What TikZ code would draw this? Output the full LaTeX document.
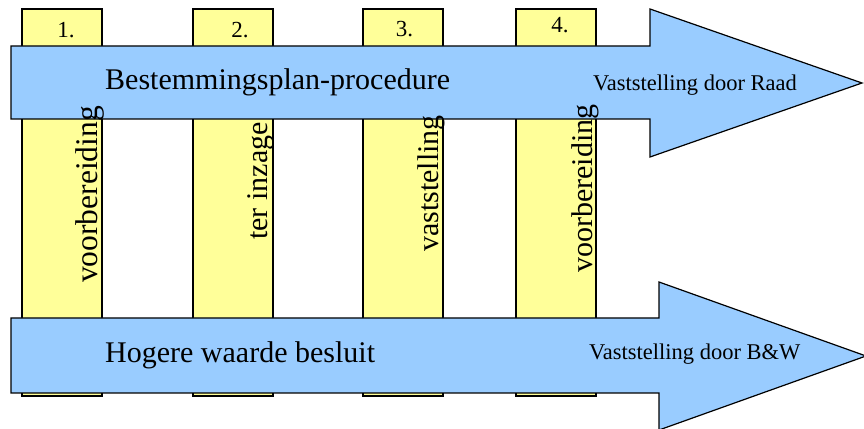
\documentclass[tikz,border=0pt]{standalone}
\usepackage{fontspec}
\setmainfont{Liberation Serif}
\definecolor{colyellow}{HTML}{FFFF99}
\definecolor{arrowblue}{HTML}{99CCFF}
\begin{document}
\begin{tikzpicture}[x=1pt,y=1pt,
  colbox/.style={draw=black,fill=colyellow,line width=1.2pt,minimum width=80pt,minimum height=387pt,inner sep=0pt},
  bigarrow/.style={draw=black,fill=arrowblue,line width=1.2pt,line join=miter},
  numlabel/.style={inner sep=0pt,font=\fontsize{23}{25}\selectfont},
  vlabel/.style={inner sep=0pt,rotate=90,anchor=base west,font=\fontsize{30}{32}\selectfont},
  mainlabel/.style={inner sep=0pt,anchor=base west,font=\fontsize{30}{32}\selectfont},
  sidelabel/.style={inner sep=0pt,anchor=base west,font=\fontsize{22.5}{24}\selectfont}]
\useasboundingbox (0,0) rectangle (864,428);
% columns
\node[colbox] (col1) at (62,225.5) {};
\node[colbox] (col2) at (233,225.5) {};
\node[colbox] (col3) at (403,225.5) {};
\node[colbox] (col4) at (556,225.5) {};
% arrows
\draw[bigarrow] (11,382) -- (650,382) -- (650,419) -- (862,345) -- (650,271) -- (650,309) -- (11,309) -- cycle;
\draw[bigarrow] (11,110) -- (659,110) -- (659,146) -- (866,72) -- (659,-2) -- (659,35) -- (11,35) -- cycle;
% numbers
\node[numlabel] (n1) at (66,398) {1.};
\node[numlabel] (n2) at (240,397.5) {2.};
\node[numlabel] (n3) at (404.5,399) {3.};
\node[numlabel] (n4) at (560,403) {4.};
% vertical texts
\node[vlabel,font=\fontsize{31.5}{33}\selectfont] (v1) at (97,145) {voorbereiding};
\node[vlabel] (v2) at (267,188) {ter inzage};
\node[vlabel] (v3) at (438,176) {vaststelling};
\node[vlabel] (v4) at (592,155) {voorbereiding};
% arrow labels
\node[mainlabel] (t1) at (105,338) {Bestemmingsplan-procedure};
\node[sidelabel] (t2) at (593,337) {Vaststelling door Raad};
\node[mainlabel] (t3) at (105,65.3) {Hogere waarde besluit};
\node[sidelabel] (t4) at (589,68) {Vaststelling door B\&W};
\end{tikzpicture}
\end{document}
